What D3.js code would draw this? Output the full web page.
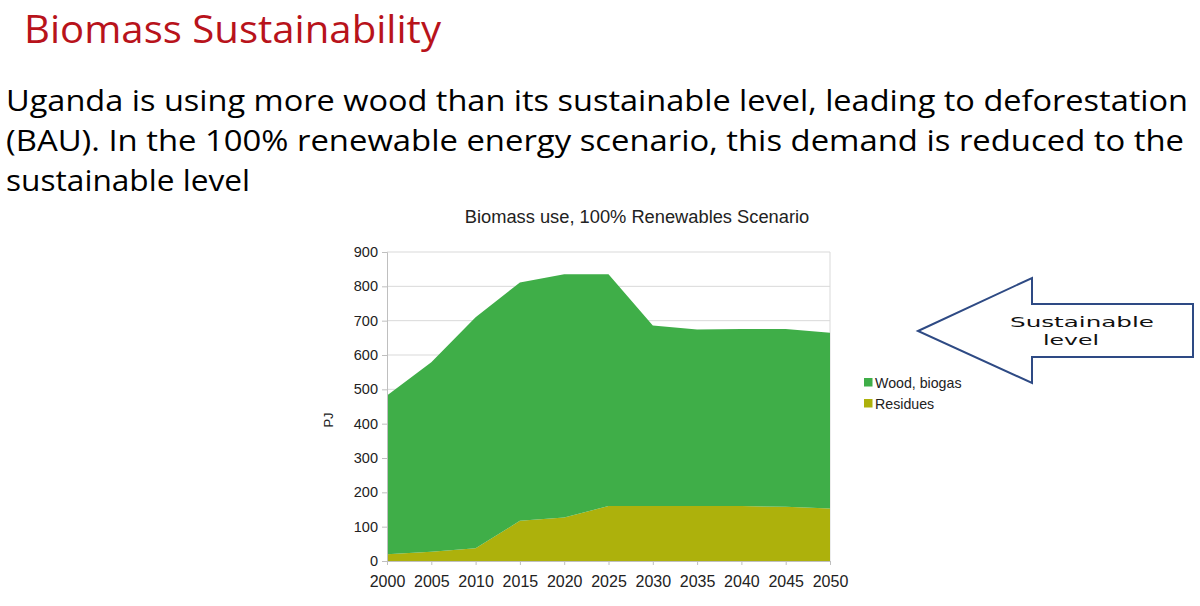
<!DOCTYPE html>
<html>
<head>
<meta charset="utf-8">
<script src="https://cdn.jsdelivr.net/npm/d3@7"></script>
<style>
  body { margin: 0; background: #fff; }
  svg { display: block; }
</style>
</head>
<body>
<svg id="slide" width="1200" height="606"></svg>
<script>
// chart values
const years = [2000, 2005, 2010, 2015, 2020, 2025, 2030, 2035, 2040, 2045, 2050];
const residues = [20, 27, 37, 117, 127, 160, 160, 160, 160, 158, 153];
const woodBiogas = [462, 552, 673, 694, 708, 675, 526, 514, 516, 518, 512];
const yTicks = [0, 100, 200, 300, 400, 500, 600, 700, 800, 900];
const seriesNames = ["Residues", "Wood, biogas"];
const seriesColors = ["#adb10c", "#3fae48"];

const svg = d3.select("#slide");

// slide heading + body text
svg.append("text")
    .attr("x", 24).attr("y", 43)
    .attr("font-family", "Open Sans")
    .attr("font-size", 38)
    .attr("fill", "#b8131b")
    .attr("textLength", 417)
    .attr("lengthAdjust", "spacingAndGlyphs")
    .text("Biomass Sustainability");

const bodyLines = [
    ["Uganda is using more wood than its sustainable level, leading to deforestation", 1182],
    ["(BAU). In the 100% renewable energy scenario, this demand is reduced to the", 1178],
    ["sustainable level", 244]
];
svg.selectAll("text.body")
    .data(bodyLines)
    .join("text")
    .attr("class", "body")
    .attr("x", 6)
    .attr("y", (d, i) => 111 + i * 40)
    .attr("font-family", "Open Sans")
    .attr("font-size", 29)
    .attr("fill", "#000")
    .attr("textLength", d => d[1])
    .attr("lengthAdjust", "spacingAndGlyphs")
    .text(d => d[0]);

// chart area
const plotL = 387, plotR = 830, plotT = 252, plotB = 561;

const x = d3.scaleLinear()
    .domain([2000, 2050])
    .range([plotL, plotR]);

const y = d3.scaleLinear()
    .domain([0, 900])
    .range([plotB, plotT]);

svg.append("text")
    .attr("x", 637).attr("y", 223)
    .attr("text-anchor", "middle")
    .attr("font-family", "Liberation Sans")
    .attr("font-size", 18.3)
    .attr("fill", "#222")
    .text("Biomass use, 100% Renewables Scenario");

// grid
svg.append("g")
    .selectAll("line")
    .data(yTicks.slice(1))
    .join("line")
    .attr("x1", plotL).attr("x2", plotR)
    .attr("y1", d => y(d)).attr("y2", d => y(d))
    .attr("stroke", "#d9d9d9")
    .attr("stroke-width", 1);

svg.append("line")
    .attr("x1", plotR).attr("x2", plotR)
    .attr("y1", plotT).attr("y2", plotB)
    .attr("stroke", "#d9d9d9");

// stacked areas
const rows = years.map((yr, i) => ({ year: yr, "Residues": residues[i], "Wood, biogas": woodBiogas[i] }));
const stacked = d3.stack().keys(seriesNames)(rows);

const area = d3.area()
    .x(d => x(d.data.year))
    .y0(d => y(d[0]))
    .y1(d => y(d[1]));

svg.append("g")
    .selectAll("path")
    .data(stacked)
    .join("path")
    .attr("d", area)
    .attr("fill", (d, i) => seriesColors[i]);

// axes
const yAxis = svg.append("g")
    .attr("transform", `translate(${plotL},0)`)
    .call(d3.axisLeft(y).tickValues(yTicks).tickSize(5).tickPadding(4));

const xAxis = svg.append("g")
    .attr("transform", `translate(0,${plotB})`)
    .call(d3.axisBottom(x).tickValues(years).tickFormat(d3.format("d")).tickSize(4).tickPadding(11));

[yAxis, xAxis].forEach(g => {
    g.select(".domain").attr("stroke", "#bfbfbf");
    g.selectAll(".tick line").attr("stroke", "#bfbfbf");
    g.selectAll(".tick text")
        .attr("font-family", "Liberation Sans")
        .attr("fill", "#222");
});
yAxis.selectAll(".tick text").attr("font-size", 14.5);
xAxis.selectAll(".tick text").attr("font-size", 16);

svg.append("text")
    .attr("transform", "translate(333,420) rotate(-90)")
    .attr("text-anchor", "middle")
    .attr("font-family", "Liberation Sans")
    .attr("font-size", 13)
    .attr("fill", "#222")
    .text("PJ");

// legend (top series first)
const legend = svg.append("g")
    .selectAll("g")
    .data(seriesNames.slice().reverse())
    .join("g")
    .attr("transform", (d, i) => `translate(864,${378 + i * 21})`);

legend.append("rect")
    .attr("width", 8.5).attr("height", 8.5)
    .attr("fill", d => seriesColors[seriesNames.indexOf(d)]);

legend.append("text")
    .attr("x", 11).attr("y", 9.5)
    .attr("font-family", "Liberation Sans")
    .attr("font-size", 14.2)
    .attr("fill", "#222")
    .text(d => d);

// "Sustainable level" block arrow
const arrowPts = [[918, 331], [1032, 278], [1032, 304], [1193, 304], [1193, 357], [1032, 357], [1032, 383]];
svg.append("path")
    .attr("d", d3.line()(arrowPts) + "Z")
    .attr("fill", "#fff")
    .attr("stroke", "#2e4a84")
    .attr("stroke-width", 2);

svg.append("g")
    .selectAll("text")
    .data([["Sustainable", 1010, 327, 144], ["level", 1043, 345, 56]])
    .join("text")
    .attr("x", d => d[1])
    .attr("y", d => d[2])
    .attr("font-family", "DejaVu Sans")
    .attr("font-size", 13.5)
    .attr("textLength", d => d[3])
    .attr("lengthAdjust", "spacingAndGlyphs")
    .attr("fill", "#111")
    .text(d => d[0]);
</script>
</body>
</html>
